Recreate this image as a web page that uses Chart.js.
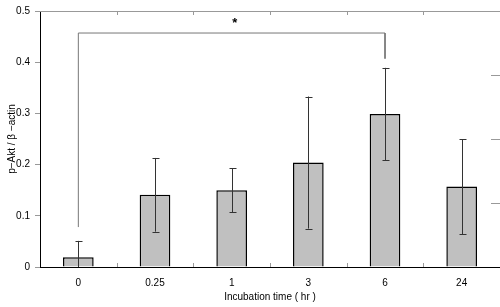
<!DOCTYPE html>
<html>
<head>
<meta charset="utf-8">
<script src="https://cdn.jsdelivr.net/npm/chart.js@4"></script>
<style>
  body { margin: 0; background: #fff; }
  #wrap { width: 500px; height: 307px; }
</style>
</head>
<body>
<div id="wrap"><canvas id="bar-chart"></canvas></div>
<script>
const labels_time = ["0", "0.25", "1", "3", "6", "24"];
const values_ratio = [0.019, 0.141, 0.150, 0.204, 0.299, 0.157];
const errors_ratio = [0.032, 0.072, 0.043, 0.129, 0.090, 0.093];
const y_ticks = [0, 0.1, 0.2, 0.3, 0.4, 0.5];
const right_ticks = [0.125, 0.25, 0.375];
const bracket_pts = [
  { x: "0", y: 0.078 },
  { x: "0", y: 0.457 },
  { x: "6", y: 0.457 },
  { x: "6", y: 0.407 },
];
const star_label = "*";

const font_main = { family: "'Liberation Sans', Arial, sans-serif", size: 10 };

// error bars, significance star and the small frame ticks
const extras = {
  id: "extras",
  beforeDatasetsDraw(chart) {
    const { ctx, chartArea: a, scales: { x, y } } = chart;
    ctx.save();
    ctx.strokeStyle = "#999";
    ctx.lineWidth = 1;
    ctx.beginPath();
    ctx.moveTo(a.left, a.top + 0.5);
    ctx.lineTo(a.right, a.top + 0.5);
    for (let i = 1; i < labels_time.length; i++) {
      const bx = Math.round((x.getPixelForValue(i - 1) + x.getPixelForValue(i)) / 2) + 0.5;
      ctx.moveTo(bx, a.bottom);
      ctx.lineTo(bx, a.bottom - 4);
      ctx.moveTo(bx, a.top);
      ctx.lineTo(bx, a.top + 4);
    }
    right_ticks.forEach(v => {
      const ty = Math.round(y.getPixelForValue(v)) + 0.5;
      ctx.moveTo(a.right, ty);
      ctx.lineTo(a.right - 9, ty);
    });
    ctx.stroke();
    ctx.restore();
  },
  afterDatasetsDraw(chart) {
    const { ctx, scales: { x, y } } = chart;
    ctx.save();
    ctx.strokeStyle = "#333";
    ctx.lineWidth = 1;
    values_ratio.forEach((v, i) => {
      const cx = Math.round(x.getPixelForValue(i)) + 0.5;
      const lo = Math.max(0, v - errors_ratio[i]);
      const top = y.getPixelForValue(v + errors_ratio[i]);
      const bot = y.getPixelForValue(lo);
      ctx.beginPath();
      ctx.moveTo(cx, top);
      ctx.lineTo(cx, bot);
      ctx.moveTo(cx - 3, Math.round(top) + 0.5);
      ctx.lineTo(cx + 4, Math.round(top) + 0.5);
      if (lo > 0) {
        ctx.moveTo(cx - 3, Math.round(bot) + 0.5);
        ctx.lineTo(cx + 4, Math.round(bot) + 0.5);
      }
      ctx.stroke();
    });
    const sx = (x.getPixelForValue(0) + x.getPixelForValue(4)) / 2;
    ctx.fillStyle = "#000";
    ctx.font = "bold 13px 'Liberation Sans', Arial, sans-serif";
    ctx.textAlign = "center";
    ctx.textBaseline = "middle";
    ctx.fillText(star_label, sx + 3, y.getPixelForValue(0.475));
    ctx.restore();
  },
};

const data_bar = {
  labels: labels_time,
  datasets: [
    {
      type: "bar",
      data: values_ratio,
      backgroundColor: "#c0c0c0",
      borderColor: "#000",
      borderWidth: 1.5,
      barPercentage: 0.4,
      categoryPercentage: 1,
      order: 2,
    },
    {
      type: "line",
      data: bracket_pts,
      borderColor: "#777",
      borderWidth: 1,
      pointRadius: 0,
      fill: false,
      order: 1,
    },
  ],
};

const config_bar = {
  type: "bar",
  data: data_bar,
  plugins: [extras],
  options: {
    responsive: true,
    maintainAspectRatio: false,
    animation: false,
    layout: { padding: { top: 9, right: 0, left: 0, bottom: 0 } },
    plugins: {
      legend: { display: false },
      tooltip: { enabled: false },
    },
    scales: {
      x: {
        offset: true,
        grid: { display: false },
        border: { color: "#000", width: 1 },
        ticks: { color: "#000", font: font_main, padding: 2, maxRotation: 0 },
        title: {
          display: true,
          text: "Incubation time ( hr )",
          color: "#000",
          font: font_main,
          padding: { top: 0, bottom: 4 },
        },
        afterFit: s => { s.height = 40; },
      },
      y: {
        min: 0,
        max: 0.5,
        afterBuildTicks: s => { s.ticks = y_ticks.map(v => ({ value: v })); },
        grid: { drawOnChartArea: false, drawTicks: true, tickLength: 5, color: "#999" },
        border: { color: "#000", width: 1 },
        ticks: { color: "#000", font: font_main, padding: 5, callback: v => String(v) },
        title: {
          display: true,
          text: "p\u2212Akt / \u03b2 \u2212actin",
          color: "#000",
          font: font_main,
          padding: { top: 6, bottom: 0 },
        },
        afterFit: s => { s.width = 40; },
      },
    },
  },
};

var ctx_bar = document.getElementById("bar-chart").getContext("2d");
var myChart_bar = new Chart(ctx_bar, config_bar);
</script>
</body>
</html>
